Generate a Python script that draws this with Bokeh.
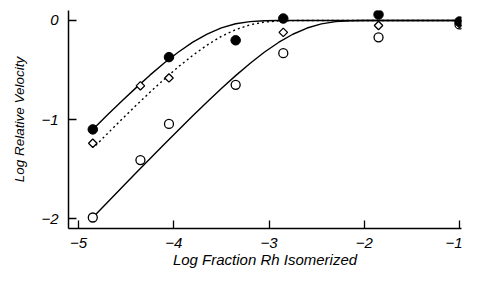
import math
from bokeh.plotting import figure
from bokeh.models import FixedTicker, Range1d
from bokeh.embed import file_html
from bokeh.resources import INLINE

# measured data (log fraction Rh isomerized, log relative velocity)
filled_x = [-4.85, -4.05, -3.35, -2.85, -1.85, -1.0]
filled_y = [-1.10, -0.37, -0.20, 0.02, 0.06, -0.01]

diamond_x = [-4.85, -4.35, -4.05, -2.85, -1.85, -1.0]
diamond_y = [-1.24, -0.66, -0.58, -0.12, -0.05, -0.03]

open_x = [-4.85, -4.35, -4.05, -3.35, -2.85, -1.85, -1.0]
open_y = [-1.99, -1.41, -1.045, -0.65, -0.33, -0.17, -0.04]

# fitted curves
upper_x = [-4.85, -4.7, -4.55, -4.4, -4.25, -4.1, -3.95, -3.8, -3.65, -3.5,
           -3.35, -3.2, -3.05, -2.9, -2.75, -2.5, -2.0, -1.5, -1.0]
upper_y = [-1.101, -0.958, -0.818, -0.683, -0.552, -0.430, -0.318, -0.219, -0.137, -0.074,
           -0.033, -0.011, -0.002, 0.0, 0.0, 0.0, 0.0, 0.0, 0.0]

dotted_x = [-4.82, -4.7, -4.55, -4.4, -4.25, -4.1, -3.95, -3.8, -3.65, -3.5,
            -3.35, -3.2, -3.05, -2.9, -2.75, -2.6, -2.0, -1.5, -1.0]
dotted_y = [-1.262, -1.146, -1.003, -0.862, -0.725, -0.593, -0.467, -0.352, -0.248, -0.160,
            -0.092, -0.044, -0.016, -0.004, -0.001, 0.0, 0.0, 0.0, 0.0]

lower_x = [-4.85, -4.7, -4.55, -4.4, -4.25, -4.1, -3.95, -3.8, -3.65, -3.5,
           -3.35, -3.2, -3.05, -2.9, -2.75, -2.6, -2.45, -2.3, -2.15, -2.0, -1.5, -1.0]
lower_y = [-1.990, -1.841, -1.693, -1.544, -1.397, -1.251, -1.106, -0.963, -0.823, -0.687,
           -0.557, -0.434, -0.321, -0.222, -0.139, -0.076, -0.034, -0.011, -0.003, 0.0, 0.0, 0.0]

x_ticks = [-5, -4, -3, -2, -1]
x_tick_labels = ["\u22125", "\u22124", "\u22123", "\u22122", "\u22121"]
y_ticks = [0, -1, -2]
y_tick_labels = ["0", "\u22121", "\u22122"]

FONT = "Liberation Sans"

p = figure(width=462, height=270, output_backend="svg", toolbar_location=None,
           x_range=Range1d(-5.105, -0.979), y_range=Range1d(-2.101, 0.101),
           min_border_left=68, min_border_right=1, min_border_top=10, min_border_bottom=42)
p.outline_line_color = None
p.xgrid.visible = False
p.ygrid.visible = False
p.background_fill_color = "white"
p.border_fill_color = "white"

lw = 1.4
p.line(upper_x, upper_y, line_color="black", line_width=lw)
p.line(dotted_x, dotted_y, line_color="black", line_width=lw, line_dash="2 3")
p.line(lower_x, lower_y, line_color="black", line_width=lw)

p.scatter(open_x, open_y, marker="circle", size=9, fill_color="white",
          line_color="black", line_width=1.3)
p.scatter(diamond_x, diamond_y, marker="square", angle=math.pi / 4, size=6,
          fill_color="white", line_color="black", line_width=1.3)
p.scatter(filled_x, filled_y, marker="circle", size=9.5, fill_color="black",
          line_color="black", line_width=1)

for ax in (p.xaxis[0], p.yaxis[0]):
    ax.axis_line_width = 1.5
    ax.axis_line_color = "black"
    ax.major_tick_in = 8
    ax.major_tick_out = 0
    ax.major_tick_line_width = 1.3
    ax.minor_tick_in = 0
    ax.minor_tick_out = 0
    ax.major_label_text_font = FONT
    ax.major_label_text_font_style = "italic"
    ax.major_label_text_font_size = "15px"
    ax.major_label_text_color = "black"
    ax.axis_label_text_font = FONT
    ax.axis_label_text_font_style = "italic"
    ax.axis_label_text_color = "black"

p.xaxis.axis_label_text_font_size = "15px"
p.yaxis.axis_label_text_font_size = "13.5px"

p.xaxis.ticker = FixedTicker(ticks=x_ticks)
p.xaxis.major_label_overrides = dict(zip(x_ticks, x_tick_labels))
p.yaxis.ticker = FixedTicker(ticks=y_ticks)
p.yaxis.major_label_overrides = dict(zip(y_ticks, y_tick_labels))

p.xaxis.axis_label = "Log Fraction Rh Isomerized"
p.yaxis.axis_label = "Log Relative Velocity"
p.xaxis.major_label_standoff = 9
p.yaxis.major_label_standoff = 10
p.xaxis.axis_label_standoff = 0
p.yaxis.axis_label_standoff = 11

open("out.html", "w").write(file_html(p, INLINE))
